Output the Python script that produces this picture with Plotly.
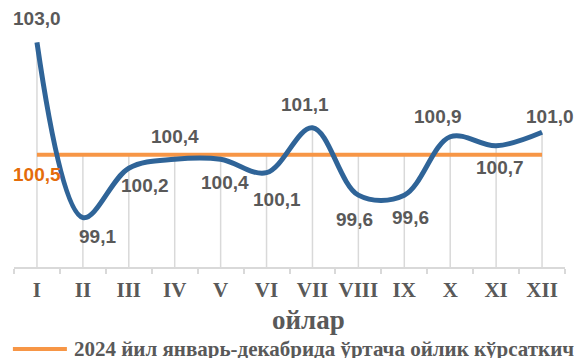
import plotly.graph_objects as go

months = ["I", "II", "III", "IV", "V", "VI", "VII", "VIII", "IX", "X", "XI", "XII"]
monthly = [103.0, 99.1, 100.2, 100.4, 100.4, 100.1, 101.1, 99.6, 99.6, 100.9, 100.7, 101.0]
average = [100.5] * 12
legend_text = "2024 йил январь-декабрида ўртача ойлик кўрсаткич"
axis_title = "ойлар"

# label offsets (pixels, screen: +x right, +y down) — styling only
label_offsets = [(0, -24), (15, 19), (16, 17), (0, -23), (4, 23), (10, 27),
                 (-7, -23), (-4, 24), (6, 22), (-12, -20), (4, 22), (8, -16)]
avg_label_offset = (0, 20)

Y_MIN, Y_MAX = 98.0, 103.5
BLUE = "#2F6498"
ORANGE = "#F79646"
ORANGE_TXT = "#E46C0A"
GREY_TXT = "#595959"
GRID = "#D9D9D9"
LABEL_FONT = "Liberation Sans, Arial, sans-serif"
SERIF = "Liberation Serif, Times New Roman, serif"

def fmt(v):
    return f"{v:.1f}".replace(".", ",")

fig = go.Figure()

# drop lines
dx, dy = [], []
for m, v, a in zip(months, monthly, average):
    dx += [m, m, None]
    dy += [max(v, a), Y_MIN, None]
fig.add_trace(go.Scatter(x=dx, y=dy, mode="lines", line=dict(color=GRID, width=1.5),
                         hoverinfo="skip", showlegend=False))

fig.add_trace(go.Scatter(x=months, y=average, mode="lines",
                         line=dict(color=ORANGE, width=4), showlegend=False))
fig.add_trace(go.Scatter(x=months, y=monthly, mode="lines",
                         line=dict(color=BLUE, width=5, shape="spline", smoothing=1.0),
                         showlegend=False))

ann = []
for m, v, (ox, oy) in zip(months, monthly, label_offsets):
    ann.append(dict(x=m, y=v, xref="x", yref="y", text=fmt(v), showarrow=False,
                    xshift=ox, yshift=-oy,
                    font=dict(family=LABEL_FONT, size=19, color=GREY_TXT, weight="bold")))
ann.append(dict(x=months[0], y=average[0], xref="x", yref="y", text=fmt(average[0]),
                showarrow=False, xshift=avg_label_offset[0], yshift=-avg_label_offset[1],
                font=dict(family=LABEL_FONT, size=19, color=ORANGE_TXT, weight="bold")))
# axis title
ann.append(dict(x=0.534, y=0, xref="paper", yref="paper", text=axis_title, showarrow=False,
                yanchor="middle", yshift=-53,
                font=dict(family=SERIF, size=27, color=GREY_TXT, weight="bold")))
# legend text
ann.append(dict(x=0, y=0, xref="paper", yref="paper", text=legend_text, showarrow=False,
                xanchor="left", yanchor="middle", xshift=58, yshift=-82,
                font=dict(family=SERIF, size=21, color=GREY_TXT, weight="bold")))

LEG_Y = (267 - 349) / 247
# page body has an 8px margin: figure is 574x350 so it ends at the window edge
fig.update_layout(
    width=574, height=350,
    margin=dict(l=6, r=17, t=12, b=91),
    paper_bgcolor="white", plot_bgcolor="white",
    annotations=ann,
    shapes=[dict(type="line", xref="paper", yref="paper", x0=-0.002, x1=0.096,
                 y0=LEG_Y, y1=LEG_Y, line=dict(color=ORANGE, width=4))],
)

fig.update_xaxes(type="category", range=[-0.5, 11.5], showgrid=False, showline=True,
                 linecolor=GRID, linewidth=1.5, ticks="outside", tickson="boundaries",
                 ticklen=5, tickcolor=GRID, tickwidth=1.5, tickangle=0, automargin=False,
                 ticklabelstandoff=3,
                 tickfont=dict(family=SERIF, size=21, color=GREY_TXT, weight="bold"))
fig.update_yaxes(range=[Y_MIN, Y_MAX], visible=False, automargin=False)

fig.write_html("out.html")
